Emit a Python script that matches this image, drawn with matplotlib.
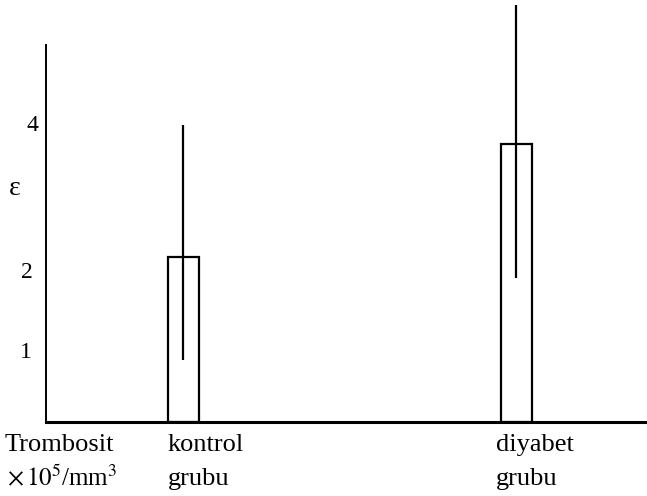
import matplotlib
matplotlib.use("Agg")
import matplotlib.pyplot as plt

# group names, bar heights and the low/high ends of the spread lines
groups = ["kontrol\ngrubu", "diyabet\ngrubu"]
means = [2.2, 3.71]
lows = [0.83, 1.92]
highs = [3.96, 5.56]
positions = [1.37, 4.70]

ytick_values = [0.93, 2.0, 3.12, 3.96]
ytick_labels = ["1", "2", "ε", "4"]
ytick_right = [-0.023, -0.022, -0.043, -0.013]

plt.rcParams["font.family"] = ["Liberation Serif", "DejaVu Serif"]
plt.rcParams["mathtext.fontset"] = "stix"

fig = plt.figure(figsize=(6.47, 4.96), dpi=100)
ax = fig.add_axes([46 / 647, 1 - 422 / 496, 601 / 647, 422 / 496])

ax.bar(positions, means, width=0.31, color="white", edgecolor="black",
       linewidth=1.6, zorder=2)
ax.vlines(positions, lows, highs, color="black", linewidth=1.6, zorder=3)

ax.set_xlim(0, 6.01)
ax.set_ylim(0, 5.63)

for side in ["top", "right"]:
    ax.spines[side].set_visible(False)
ax.spines["left"].set_bounds(0, 5.03)
ax.spines["left"].set_linewidth(1.4)
ax.spines["bottom"].set_linewidth(2.2)

ax.set_xticks([])
ax.set_yticks([])

# hand placed axis numbers, as in the scanned figure
ytrans = ax.get_yaxis_transform()
for val, lab, xr in zip(ytick_values, ytick_labels, ytick_right):
    size = 20 if lab == "ε" else 17
    ax.text(xr, val, lab, transform=ytrans, fontsize=size, ha="right",
            va="center", clip_on=False)

# labels under the axis
fs = 19
fig.text(5 / 647, 1 - 451 / 496, "Trombosit", fontsize=fs, va="baseline", ha="left")
fig.text(7 / 647, 1 - 485 / 496, r"$\times\,10^{5}$/mm$^{3}$", fontsize=fs - 1,
         va="baseline", ha="left")
label_x = [168, 496]
for name, lx in zip(groups, label_x):
    first, second = name.split("\n")
    fig.text(lx / 647, 1 - 451 / 496, first, fontsize=fs, va="baseline", ha="left")
    fig.text(lx / 647, 1 - 485 / 496, second, fontsize=fs, va="baseline", ha="left")

fig.savefig("out.png", dpi=100)
